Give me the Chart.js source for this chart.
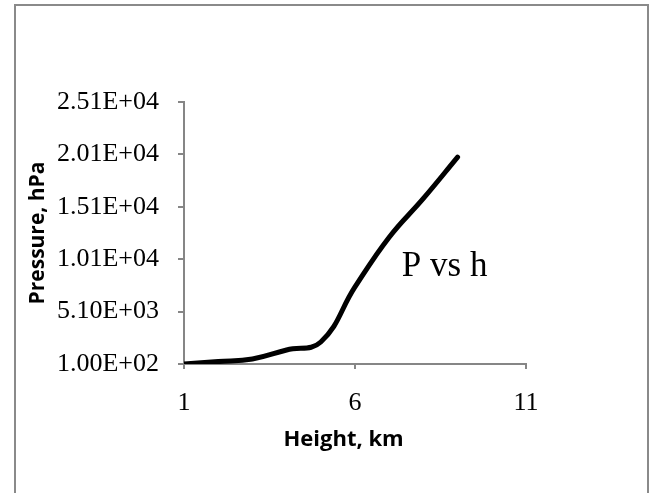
<!DOCTYPE html>
<html>
<head>
<meta charset="utf-8">
<script src="https://cdn.jsdelivr.net/npm/chart.js@4.4.1/dist/chart.umd.min.js"></script>
<style>
body { margin:0; background:#fff; }
#frame { position:absolute; left:14px; top:4px; width:635px; height:520px; border:2px solid #8a8a8a; box-sizing:border-box; }
#c { position:absolute; left:0; top:0; }
</style>
</head>
<body>
<div id="frame"></div>
<canvas id="c" width="651" height="493"></canvas>
<script>
// height (km) vs pressure (hPa)
const heights = [1, 2, 3, 4, 5, 6, 7, 8, 9];
const pressures = [100, 330, 580, 1440, 2200, 7450, 12200, 15900, 19840];
const seriesName = 'P vs h';

const xTicks = [1, 6, 11];
const yTicks = [100, 5100, 10100, 15100, 20100, 25100];
const yTickLabels = ['1.00E+02', '5.10E+03', '1.01E+04', '1.51E+04', '2.01E+04', '2.51E+04'];

const axisGrey = '#868686';

// text label next to the line, like the excel data label
const seriesLabel = {
    id: 'seriesLabel',
    afterDatasetsDraw(chart) {
        const ctx = chart.ctx;
        const x = chart.scales.x, y = chart.scales.y;
        ctx.save();
        ctx.font = '35px "Liberation Serif"';
        ctx.fillStyle = '#000';
        ctx.textBaseline = 'alphabetic';
        ctx.fillText(seriesName, x.getPixelForValue(7.37), y.getPixelForValue(8500));
        ctx.restore();
    }
};

new Chart(document.getElementById('c'), {
    type: 'line',
    data: {
        datasets: [{
            label: seriesName,
            data: heights.map((h, i) => ({x: h, y: pressures[i]})),
            borderColor: '#000',
            borderWidth: 5,
            pointRadius: 0,
            tension: 0.42,
            borderCapStyle: 'round',
            borderJoinStyle: 'round',
            fill: false
        }]
    },
    options: {
        responsive: false,
        animation: false,
        layout: {padding: {left: 0, top: 102, right: 125, bottom: 0}},
        plugins: {legend: {display: false}, tooltip: {enabled: false}},
        scales: {
            x: {
                type: 'linear',
                min: 1,
                max: 11,
                afterBuildTicks: s => { s.ticks = xTicks.map(v => ({value: v})); },
                afterFit: s => { s.height = 129; },
                grid: {drawOnChartArea: false, drawTicks: true, tickLength: 5, color: axisGrey, lineWidth: 2},
                border: {color: axisGrey, width: 2},
                ticks: {color: '#000', font: {family: '"Liberation Serif"', size: 26}, padding: 19, maxRotation: 0},
                title: {
                    display: true,
                    text: 'Height, km    ',
                    color: '#000',
                    font: {family: '"Open Sans"', size: 22, weight: 'bold'},
                    padding: {top: 0, bottom: 40}
                }
            },
            y: {
                type: 'linear',
                min: 100,
                max: 25100,
                afterBuildTicks: s => { s.ticks = yTicks.map(v => ({value: v})); },
                afterFit: s => { s.width = 184; },
                grid: {drawOnChartArea: false, drawTicks: true, tickLength: 6, color: axisGrey, lineWidth: 2},
                border: {color: axisGrey, width: 2},
                ticks: {
                    color: '#000',
                    font: {family: '"Liberation Serif"', size: 26},
                    padding: 19,
                    callback: v => yTickLabels[yTicks.indexOf(v)]
                },
                title: {
                    display: true,
                    text: 'Pressure, hPa',
                    color: '#000',
                    font: {family: '"Open Sans"', size: 21, weight: 'bold'},
                    padding: {top: 25, bottom: 0}
                }
            }
        }
    },
    plugins: [seriesLabel]
});
</script>
</body>
</html>
